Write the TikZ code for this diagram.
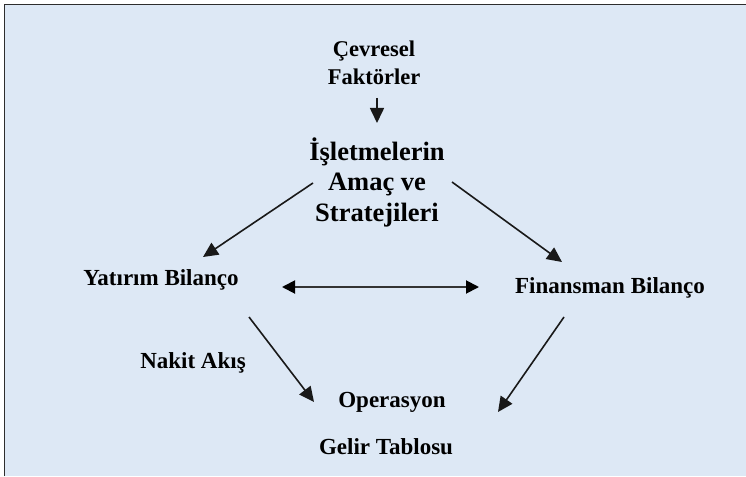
\documentclass[tikz,border=0pt]{standalone}
\usepackage{fontspec}
\setmainfont{Liberation Serif}
\usetikzlibrary{arrows.meta}
\definecolor{panel}{RGB}{221,232,245}
\definecolor{rim}{RGB}{45,45,45}
\begin{document}
\begin{tikzpicture}[x=1pt,y=-1pt,
  lbl/.style={font=\bfseries\fontsize{23}{28}\selectfont, inner sep=0pt, align=center},
  src/.style={font=\bfseries\fontsize{22.5}{28}\selectfont, inner sep=0pt, align=center},
  goal/.style={font=\bfseries\fontsize{26.5}{30.5}\selectfont, inner sep=0pt, align=center},
  arr/.style={line width=1.6pt, black!90, -{Triangle[length=15pt,width=14pt]}},
  twoway/.style={line width=1.9pt, black!80, {Triangle[length=13pt,width=13pt,color=black,fill=black]}-{Triangle[length=13pt,width=13pt,color=black,fill=black]}},
]
\useasboundingbox (0,0) rectangle (746,476);
\fill[white] (0,0) rectangle (746,476);
\fill[panel] (4,4) rectangle (746,476);
\draw[rim, line width=1.5pt] (4.5,476) -- (4.5,4.5) -- (746,4.5);

% labels
\node[src]  (cev) at (374,63)  {Çevresel\\Faktörler};
\node[goal] (isl) at (377,182) {İşletmelerin\\Amaç ve\\Stratejileri};
\node[lbl]  (yat) at (161,280) {Yatırım Bilanço};
\node[lbl]  (fin) at (610,288) {Finansman Bilanço};
\node[lbl]  (nak) at (193,363) {Nakit Akış};
\node[lbl]  (ope) at (392,402) {Operasyon};
\node[lbl]  (gel) at (386,447) {Gelir Tablosu};

% connectors
\draw[arr] ([shift={(3,35)}]cev.center) -- ([shift={(0,-59)}]isl.center);
\draw[arr] ([shift={(-64,1)}]isl.center) -- ([shift={(42,-23)}]yat.center);
\draw[arr] ([shift={(75,0)}]isl.center) -- ([shift={(-48,-26)}]fin.center);
\draw[twoway] ([shift={(121,7)}]yat.center) -- ([shift={(-131,-1)}]fin.center);
\draw[arr] ([shift={(88,37)}]yat.center) -- ([shift={(-78,0)}]ope.center);
\draw[arr] ([shift={(-46,29)}]fin.center) -- ([shift={(106,10)}]ope.center);
\end{tikzpicture}
\end{document}
